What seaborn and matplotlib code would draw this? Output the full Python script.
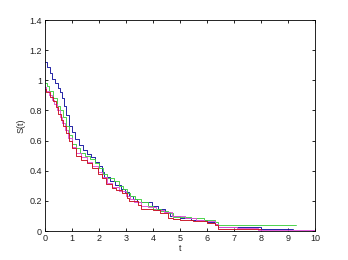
import matplotlib
matplotlib.use("Agg")
import matplotlib.pyplot as plt
import seaborn as sns
import pandas as pd
from matplotlib.ticker import FuncFormatter

# Step survival curves
blue_t = [0, 0.08, 0.18, 0.28, 0.37, 0.47, 0.55, 0.62, 0.70, 0.80, 0.90, 1.00, 1.10, 1.25, 1.40,
          1.55, 1.70, 1.85, 2.00, 2.10, 2.18, 2.40, 2.60, 2.80, 2.95, 3.10, 3.25, 3.40, 3.95, 4.20,
          4.45, 4.62, 5.00, 5.40, 6.00, 6.30, 6.42, 8.00, 9.20]
blue_s = [1.12, 1.09, 1.05, 1.01, 0.98, 0.95, 0.92, 0.88, 0.83, 0.77, 0.70, 0.66, 0.61, 0.57, 0.54,
          0.51, 0.49, 0.46, 0.43, 0.39, 0.36, 0.33, 0.305, 0.28, 0.26, 0.235, 0.215, 0.19, 0.165, 0.145,
          0.125, 0.10, 0.09, 0.075, 0.062, 0.05, 0.03, 0.013, 0.013]

green_t = [0, 0.06, 0.15, 0.31, 0.45, 0.56, 0.68, 0.80, 0.90, 1.00, 1.15, 1.30, 1.50, 1.67, 1.85,
           2.00, 2.15, 2.30, 2.55, 2.75, 2.90, 3.05, 3.15, 3.35, 3.55, 3.80, 4.00, 4.30, 4.55, 4.75,
           5.40, 5.90, 6.30, 6.42, 9.30]
green_s = [0.985, 0.96, 0.93, 0.88, 0.83, 0.80, 0.76, 0.70, 0.64, 0.58, 0.55, 0.52, 0.50, 0.48, 0.45,
           0.42, 0.38, 0.35, 0.33, 0.30, 0.28, 0.255, 0.235, 0.215, 0.19, 0.17, 0.15, 0.135, 0.12, 0.095,
           0.085, 0.075, 0.06, 0.04, 0.04]

magenta_t = [0, 0.05, 0.15, 0.25, 0.35, 0.45, 0.55, 0.65, 0.75, 0.85, 1.00, 1.15, 1.35, 1.55, 1.75,
             1.95, 2.10, 2.30, 2.50, 2.75, 3.00, 3.15, 3.30, 3.55, 3.80, 4.10, 4.40, 4.70, 5.20, 5.60,
             5.90, 6.30, 6.42, 7.10, 7.90, 9.30, 10.0]
magenta_s = [0.955, 0.93, 0.90, 0.87, 0.84, 0.80, 0.76, 0.72, 0.67, 0.62, 0.56, 0.52, 0.49, 0.46, 0.43,
             0.39, 0.36, 0.32, 0.29, 0.265, 0.235, 0.21, 0.19, 0.17, 0.16, 0.14, 0.125, 0.10, 0.085, 0.075,
             0.065, 0.045, 0.025, 0.018, 0.010, 0.005, 0.005]

red_t = [0, 0.05, 0.19, 0.30, 0.40, 0.48, 0.58, 0.67, 0.78, 0.88, 1.00, 1.17, 1.35, 1.55, 1.75,
         1.95, 2.10, 2.28, 2.50, 2.65, 2.85, 3.05, 3.12, 3.46, 3.55, 4.00, 4.26, 4.56, 4.75, 5.00,
         5.50, 6.00, 6.30, 6.42, 8.00]
red_s = [0.94, 0.92, 0.89, 0.86, 0.82, 0.78, 0.74, 0.70, 0.65, 0.60, 0.55, 0.50, 0.47, 0.45, 0.42,
         0.38, 0.35, 0.31, 0.285, 0.27, 0.25, 0.22, 0.20, 0.175, 0.15, 0.14, 0.12, 0.09, 0.08, 0.075,
         0.065, 0.055, 0.04, 0.015, 0.015]

x_ticks = [0, 1, 2, 3, 4, 5, 6, 7, 8, 9, 10]
y_ticks = [0, 0.2, 0.4, 0.6, 0.8, 1.0, 1.2, 1.4]

sns.set_style("white")
plt.rcParams['font.family'] = ['Liberation Sans', 'DejaVu Sans']

fig = plt.figure(figsize=(3.48, 2.60), dpi=100)
ax = fig.add_axes([0.129, 0.111, 0.776, 0.812])

series = [(blue_t, blue_s, '#1515a0'), (green_t, green_s, '#40d040'),
          (magenta_t, magenta_s, '#e050d8'), (red_t, red_s, '#c81020')]
for t, s, c in series:
    df = pd.DataFrame({'t': t, 's': s})
    sns.lineplot(data=df, x='t', y='s', ax=ax, color=c, lw=0.65,
                 drawstyle='steps-post', estimator=None, sort=False)

ax.set_xlim(0, 10)
ax.set_ylim(0, 1.4)
ax.set_xticks(x_ticks)
ax.set_yticks(y_ticks)
ax.xaxis.set_major_formatter(FuncFormatter(lambda v, p: f"{v:g}"))
ax.yaxis.set_major_formatter(FuncFormatter(lambda v, p: f"{v:g}"))
ax.tick_params(direction='in', length=2.5, width=0.6, labelsize=6.5, top=True, right=True,
               bottom=True, left=True, pad=2, colors='black', labelcolor='#222222')
for sp in ax.spines.values():
    sp.set_visible(True)
    sp.set_color('black')
    sp.set_linewidth(0.6)
ax.set_xlabel('t', fontsize=6.5, labelpad=1)
ax.set_ylabel('S(t)', fontsize=6.5, labelpad=3)
ax.grid(False)

fig.savefig('out.png', dpi=100)
